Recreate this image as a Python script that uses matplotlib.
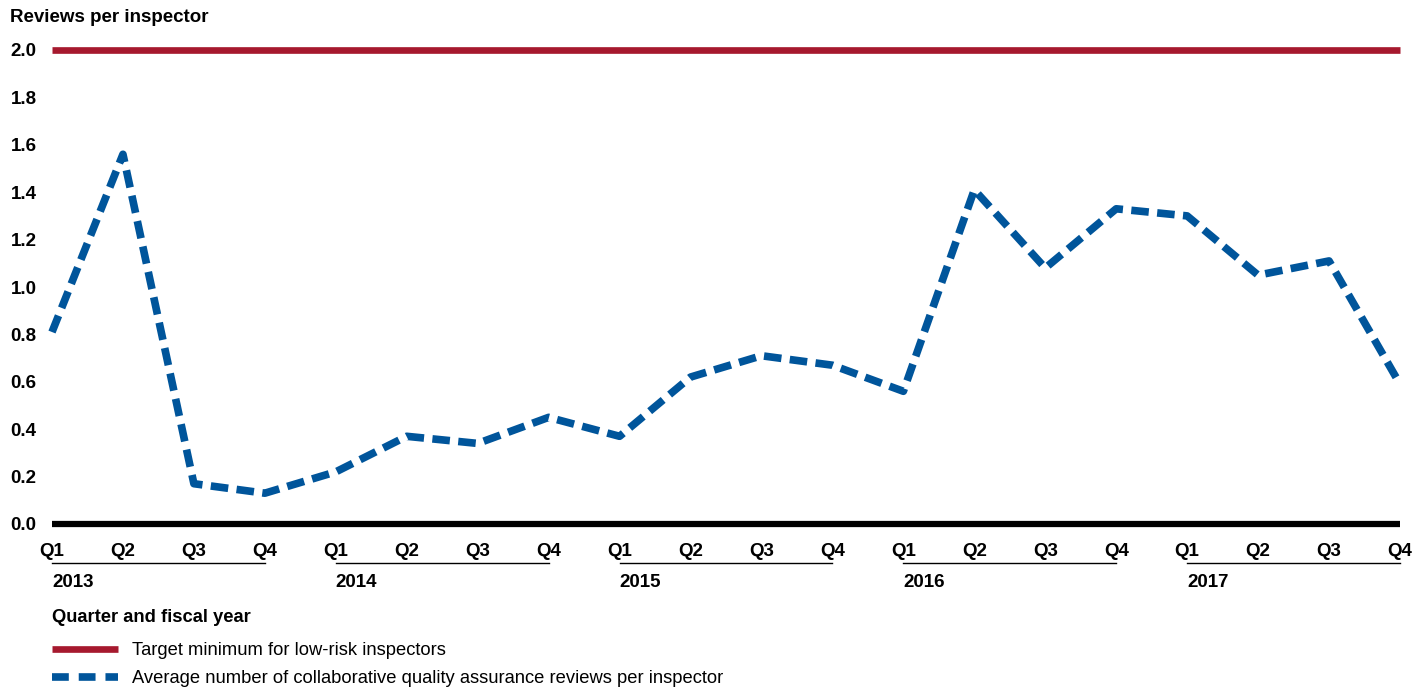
import matplotlib.pyplot as plt
from matplotlib.lines import Line2D

years = ['2013', '2014', '2015', '2016', '2017']
quarters = ['Q1', 'Q2', 'Q3', 'Q4']
reviews = [0.81, 1.56, 0.17, 0.13,
           0.22, 0.37, 0.34, 0.45,
           0.37, 0.62, 0.71, 0.67,
           0.56, 1.41, 1.08, 1.33,
           1.30, 1.05, 1.11, 0.59]
target = 2.0
y_ticks = [0.0, 0.2, 0.4, 0.6, 0.8, 1.0, 1.2, 1.4, 1.6, 1.8, 2.0]

RED = '#A6192E'
BLUE = '#00559B'

plt.rcParams['font.family'] = ['Liberation Sans', 'DejaVu Sans']

fig = plt.figure(figsize=(14.28, 6.91), dpi=100)
ax = fig.add_axes([52 / 1428, 1 - 524 / 691, (1400 - 52) / 1428, (524 - 50) / 691])

x = list(range(len(reviews)))
ax.plot([x[0], x[-1]], [target, target], color=RED, lw=4.8, solid_capstyle='butt',
        clip_on=False, zorder=3)
ax.plot(x, reviews, color=BLUE, lw=5.5, linestyle=(0, (2.3, 1.1)), dash_capstyle='butt',
        clip_on=False, zorder=3)
ax.plot([x[0], x[-1]], [0, 0], color='black', lw=4.5, solid_capstyle='butt',
        clip_on=False, zorder=4)

ax.set_xlim(x[0], x[-1])
ax.set_ylim(0, 2.0)
for s in ax.spines.values():
    s.set_visible(False)
ax.set_yticks(y_ticks)
ax.set_yticklabels([f'{v:.1f}' for v in y_ticks], fontsize=13.5, fontweight='bold')
ax.tick_params(axis='y', length=0, pad=11)
ax.set_xticks([])

tr = ax.get_xaxis_transform()
for i, yr in enumerate(years):
    for j, q in enumerate(quarters):
        ax.text(i * 4 + j, -0.059, q, transform=tr, ha='center', va='center',
                fontsize=13.5, fontweight='bold')
    ax.plot([i * 4, i * 4 + 3], [-0.082, -0.082], transform=tr, color='black',
            lw=1, clip_on=False)
    ax.text(i * 4, -0.124, yr, transform=tr, ha='left', va='center',
            fontsize=13.5, fontweight='bold')

fig.text(10 / 1428, 1 - 17 / 691, 'Reviews per inspector', ha='left', va='center',
         fontsize=13.5, fontweight='bold')
fig.text(52 / 1428, 1 - 617 / 691, 'Quarter and fiscal year', ha='left', va='center',
         fontsize=13.2, fontweight='bold')

handles = [Line2D([], [], color=RED, lw=4.8, solid_capstyle='butt'),
           Line2D([], [], color=BLUE, lw=5.5, linestyle=(0, (2.2, 1.3)), dash_capstyle='butt')]
labels = ['Target minimum for low-risk inspectors',
          'Average number of collaborative quality assurance reviews per inspector']
leg = fig.legend(handles, labels, loc='upper left', bbox_to_anchor=(52 / 1428, 1 - 642 / 691),
                 frameon=False, fontsize=13.2, handlelength=3.6, handletextpad=0.75,
                 labelspacing=0.6, borderaxespad=0, borderpad=0)

plt.savefig('out.png', dpi=100)
